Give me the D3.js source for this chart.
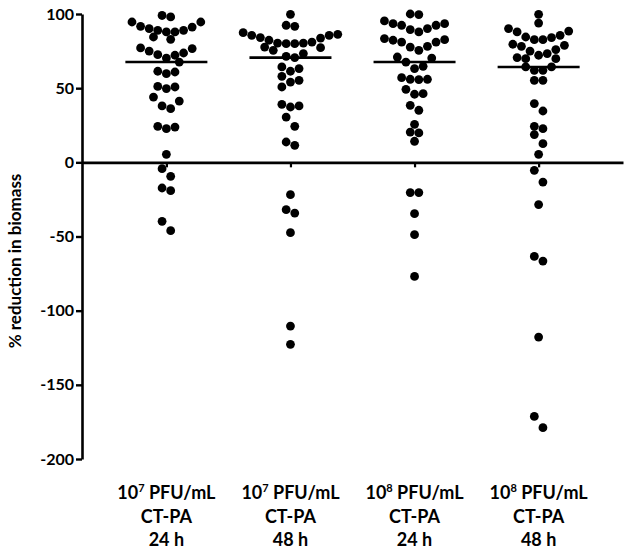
<!DOCTYPE html>
<html>
<head>
<meta charset="utf-8">
<script src="https://cdn.jsdelivr.net/npm/d3@7"></script>
<style>
  body { margin: 0; background: #fff; }
  svg text { font-family: Lato, "Open Sans", sans-serif; font-weight: bold; fill: #000; }
</style>
</head>
<body>
<div id="chart"></div>
<script>
// groups along the x axis
const categories = ['e7_24', 'e7_48', 'e8_24', 'e8_48'];
const exponents = ['7', '7', '8', '8'];
const strain = 'CT-PA';
const hours = ['24 h', '48 h', '24 h', '48 h'];
const yTicks = [100, 50, 0, -50, -100, -150, -200];

// % reduction in biomass, one value per well
const e7_24 = [99, 98, 94.6, 91.7, 90.2, 89, 87.9, 87.9, 84.5, 89, 91.2, 94.6, 82.9,
    76.7, 73.7, 72.2, 77.1, 70.3, 72.6, 75.0, 67.6, 60.9, 59.8, 61.4, 51.2, 49.7, 50.8,
    44.0, 41.3, 38.0, 36.2, 24.3, 22.7, 23.8, 5.4, -4.3, -9.4, -17.3, -19.1, -39.8, -46.1];
const e7_48 = [99.8, 92.4, 91.7, 87.4, 85.6, 83.8, 82.3, 80.4, 80.0, 80.0, 80.4, 81.1,
    84.1, 85.6, 86.3, 77.3, 73.3, 75.5, 77.7, 70.6, 71.5, 63.2, 61.4, 64.3, 55.3, 50.8,
    54.1, 58.0, 38.0, 37.3, 39.1, 30.5, 24.3, 13.7, 11.5, -21.8, -31.9, -34.2, -47.4,
    -110.4, -122.7];
const e8_24 = [99.6, 100, 95.3, 93.5, 92.4, 90.2, 87.9, 89.5, 92.4, 93.5, 82.7, 81.1,
    78.2, 75.5, 77.7, 81.1, 82.3, 83.4, 71.0, 70.3, 67.6, 63.2, 64.7, 56.0, 55.8, 56.0,
    57.1, 46.3, 45.9, 49.2, 35.1, 38.4, 25.6, 20.4, 19.8, 14.2, -20.4, -20.4, -34.6,
    -48.8, -76.9];
const e8_48 = [99.8, 93.9, 90.2, 87.9, 84.5, 82.7, 82.7, 84.1, 85.6, 88.5, 78.9, 76.0,
    75.0, 78.2, 79.6, 72.2, 69.9, 73.3, 69.9, 70.6, 64.3, 62.0, 64.3, 62.0, 55.3, 55.3,
    39.6, 34.6, 24.3, 22.7, 18.7, 12.6, 5.4, -5.4, -13.3, -28.5, -66.6, -63.4, -117.8,
    -178.9, -171.3];

const series = [e7_24, e7_48, e8_24, e8_48];

const width = 630;
const height = 550;
const axisX = 82;
const r = 4.4;

const svg = d3.select('#chart')
    .append('svg')
    .attr('width', width)
    .attr('height', height);

const yScale = d3.scaleLinear()
    .domain([-200, 100])
    .range([459, 14]);

const xScale = d3.scalePoint()
    .domain(categories)
    .range([axisX, 623])
    .padding(0.68);

// y axis
const yAxis = svg.append('g')
    .attr('transform', `translate(${axisX},0)`)
    .call(d3.axisLeft(yScale)
        .tickValues(yTicks)
        .tickFormat(d => String(d))
        .tickSize(6)
        .tickSizeOuter(0)
        .tickPadding(2));
yAxis.select('.domain').attr('stroke-width', 2.6);
yAxis.selectAll('.tick line').attr('stroke-width', 2.4);
yAxis.selectAll('.tick text').style('font-size', '16px');

svg.append('text')
    .attr('transform', `translate(21,261) rotate(-90)`)
    .attr('text-anchor', 'middle')
    .style('font-size', '17px')
    .text('% reduction in biomass');

// x axis crossing at zero
const xAxis = svg.append('g')
    .attr('transform', `translate(0,${yScale(0)})`)
    .call(d3.axisBottom(xScale).tickSize(5).tickSizeOuter(0).tickFormat(''));
xAxis.select('.domain').attr('stroke-width', 2.6);
xAxis.selectAll('.tick line').attr('stroke-width', 2.2);

// dot layout: rows of close values, lowest value in the middle of a row,
// neighbours alternate outwards; dots that still overlap get pushed out
function swarm(values, cx) {
    const sorted = values.slice().sort(d3.descending);
    const sparse = v => sorted.filter(w => Math.abs(w - v) <= 15).length <= 5;
    const rows = [];
    let row = [];
    sorted.forEach(v => {
        if (row.length) {
            const gap = row[row.length - 1] - v;
            const span = row[0] - v;
            const lone = row.length === 1 && sparse(row[0]);
            if (span > 8 || (gap > 3.3 && !lone)) {
                rows.push(row);
                row = [];
            }
        }
        row.push(v);
    });
    rows.push(row);

    const s = 8.6;
    const h = s / 2;
    const minDist = 2 * r * 0.9;
    const placed = [];
    rows.forEach(vals => {
        const n = vals.length;
        vals.sort(d3.ascending).forEach((v, j) => {
            let slot;
            if (n % 2) {
                slot = j === 0 ? 0 : (j % 2 ? 1 : -1) * Math.ceil(j / 2);
            } else {
                slot = (j % 2 ? -1 : 1) * (Math.floor(j / 2) + 0.5);
            }
            const base = cx + slot * s;
            const dir = slot < 0 ? -1 : 1;
            const py = yScale(v);
            for (let k = 0; k < 40; k++) {
                const off = k === 0 ? 0 : (k % 2 ? dir : -dir) * Math.ceil(k / 2) * h;
                const px = base + off;
                const hit = placed.some(p => (p.x - px) ** 2 + (p.y - py) ** 2 < minDist * minDist);
                if (!hit) {
                    placed.push({ x: px, y: py, v });
                    break;
                }
            }
        });
    });
    return placed;
}

series.forEach((vals, gi) => {
    const cx = xScale(categories[gi]);
    const g = svg.append('g');

    g.selectAll('circle')
        .data(swarm(vals, cx))
        .enter().append('circle')
        .attr('cx', d => d.x)
        .attr('cy', d => d.y)
        .attr('r', r)
        .attr('fill', '#000');

    const med = d3.median(vals);
    g.append('line')
        .attr('x1', cx - 41)
        .attr('x2', cx + 41)
        .attr('y1', yScale(med))
        .attr('y2', yScale(med))
        .attr('stroke', '#000')
        .attr('stroke-width', 2.6);

    const label = svg.append('text')
        .attr('text-anchor', 'middle')
        .style('font-size', '18px');
    const l1 = label.append('tspan').attr('x', cx).attr('y', 499);
    l1.append('tspan').text('10');
    l1.append('tspan').attr('dy', -7).style('font-size', '11px').text(exponents[gi]);
    l1.append('tspan').attr('dy', 7).text(' PFU/mL');
    label.append('tspan').attr('x', cx).attr('y', 523).text(strain);
    label.append('tspan').attr('x', cx).attr('y', 546).text(hours[gi]);
});
</script>
</body>
</html>
